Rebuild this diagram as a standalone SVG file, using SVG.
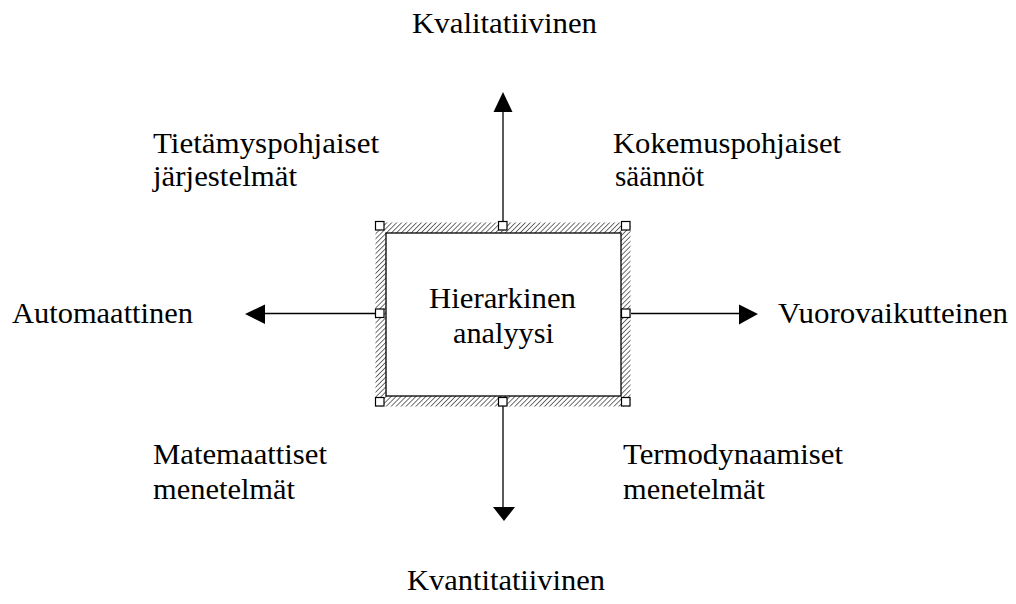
<svg xmlns="http://www.w3.org/2000/svg" width="1016" height="604" viewBox="0 0 1016 604">
  <style>
    text { font-family: "Liberation Serif", "Times New Roman", serif; font-size: 29px; fill: #000; }
    .conn { stroke: #000; stroke-width: 1.3; fill: none; }
    .head { fill: #000; stroke: none; }
    .handle { fill: #fff; stroke: #000; stroke-width: 1.2; }
  </style>
  <defs>
    <pattern id="hatch" width="3.5" height="3.5" patternUnits="userSpaceOnUse" patternTransform="rotate(45)">
      <line x1="0" y1="0" x2="0" y2="3.5" stroke="#222" stroke-width="1.3"/>
    </pattern>
  </defs>
  <rect width="1016" height="604" fill="#fff"/>

  <!-- connectors from the central box to the four axis labels -->
  <g id="connectors">
    <line class="conn" x1="503" y1="111" x2="503" y2="222"/>
    <polygon class="head" points="503,92 512.5,112 493.5,112"/>
    <line class="conn" x1="503" y1="406" x2="503" y2="508"/>
    <polygon class="head" points="493,507 515,507 504,521"/>
    <line class="conn" x1="264" y1="313.5" x2="375" y2="313.5"/>
    <polygon class="head" points="245,314 265,304.5 265,324"/>
    <line class="conn" x1="631" y1="313.5" x2="740" y2="313.5"/>
    <polygon class="head" points="758,314 739,304.5 739,324.5"/>
  </g>

  <!-- central node: hatched selection frame with sizing handles -->
  <g id="node-hierarkinen">
    <rect x="375.5" y="222.5" width="255" height="184" fill="url(#hatch)"/>
    <rect x="386" y="233" width="235" height="163" fill="#fff" stroke="#000" stroke-width="1.3"/>
    <rect class="handle" x="375.5" y="221.5" width="8.5" height="8.5"/>
    <rect class="handle" x="498.5" y="221.5" width="8.5" height="8.5"/>
    <rect class="handle" x="621.5" y="221.5" width="8.5" height="8.5"/>
    <rect class="handle" x="375.5" y="309" width="8.5" height="8.5"/>
    <rect class="handle" x="621.5" y="309" width="8.5" height="8.5"/>
    <rect class="handle" x="375.5" y="397.5" width="8.5" height="8.5"/>
    <rect class="handle" x="498.5" y="397.5" width="8.5" height="8.5"/>
    <rect class="handle" x="621.5" y="397.5" width="8.5" height="8.5"/>
    <text x="429" y="308" textLength="147" lengthAdjust="spacingAndGlyphs">Hierarkinen</text>
    <text x="453" y="343" textLength="101" lengthAdjust="spacingAndGlyphs">analyysi</text>
  </g>

  <g id="node-kvalitatiivinen">
    <text x="412" y="33" textLength="185" lengthAdjust="spacingAndGlyphs">Kvalitatiivinen</text>
  </g>
  <g id="node-kvantitatiivinen">
    <text x="407" y="590" textLength="198" lengthAdjust="spacingAndGlyphs">Kvantitatiivinen</text>
  </g>
  <g id="node-automaattinen">
    <text x="12" y="323" textLength="181" lengthAdjust="spacingAndGlyphs">Automaattinen</text>
  </g>
  <g id="node-vuorovaikutteinen">
    <text x="778" y="323" textLength="230" lengthAdjust="spacingAndGlyphs">Vuorovaikutteinen</text>
  </g>
  <g id="node-tietamys">
    <text x="153" y="153" textLength="226" lengthAdjust="spacingAndGlyphs">Tietämyspohjaiset</text>
    <text x="153" y="186" textLength="144" lengthAdjust="spacingAndGlyphs">järjestelmät</text>
  </g>
  <g id="node-kokemus">
    <text x="613" y="153" textLength="228" lengthAdjust="spacingAndGlyphs">Kokemuspohjaiset</text>
    <text x="615" y="186" textLength="89" lengthAdjust="spacingAndGlyphs">säännöt</text>
  </g>
  <g id="node-matemaattiset">
    <text x="153" y="464" textLength="174" lengthAdjust="spacingAndGlyphs">Matemaattiset</text>
    <text x="153" y="499" textLength="142" lengthAdjust="spacingAndGlyphs">menetelmät</text>
  </g>
  <g id="node-termodynaamiset">
    <text x="623" y="464" textLength="220" lengthAdjust="spacingAndGlyphs">Termodynaamiset</text>
    <text x="623" y="499" textLength="142" lengthAdjust="spacingAndGlyphs">menetelmät</text>
  </g>
</svg>
